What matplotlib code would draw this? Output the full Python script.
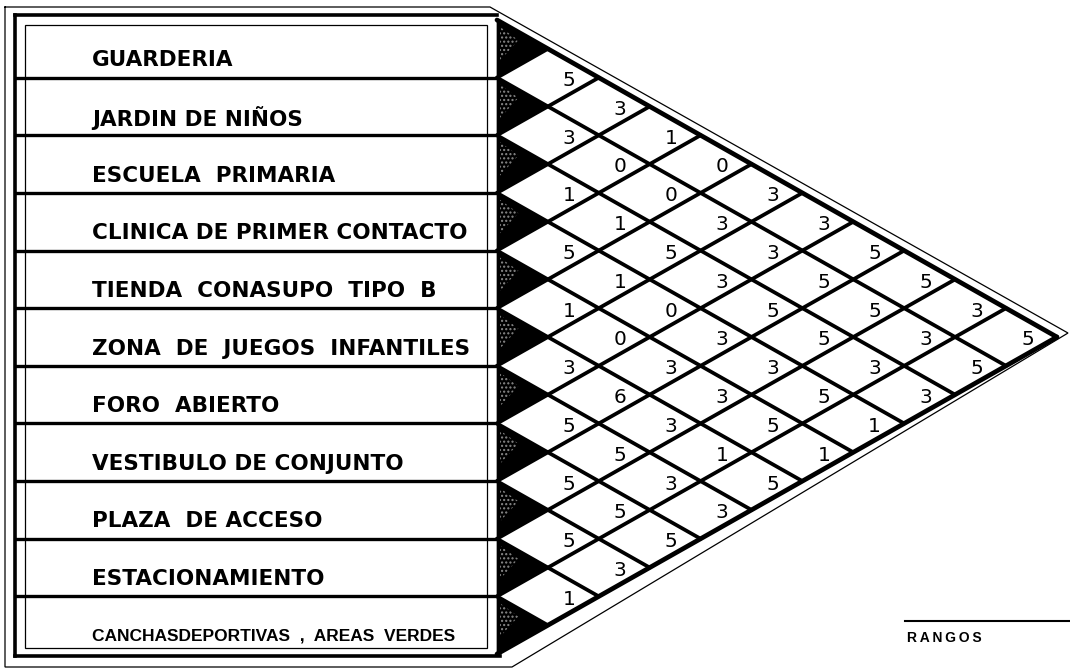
import matplotlib
matplotlib.use("Agg")
import matplotlib.pyplot as plt
from matplotlib.patches import Polygon, Rectangle

# activities listed down the left side
labels = [
    "GUARDERIA",
    "JARDIN DE NIÑOS",
    "ESCUELA  PRIMARIA",
    "CLINICA DE PRIMER CONTACTO",
    "TIENDA  CONASUPO  TIPO  B",
    "ZONA  DE  JUEGOS  INFANTILES",
    "FORO  ABIERTO",
    "VESTIBULO DE CONJUNTO",
    "PLAZA  DE ACCESO",
    "ESTACIONAMIENTO",
    "CANCHASDEPORTIVAS  ,  AREAS  VERDES",
]

# relation values, row i holds pairs (i, i+1), (i, i+2), ...
rel_0 = [5, 3, 1, 0, 3, 3, 5, 5, 3, 5]
rel_1 = [3, 0, 0, 3, 3, 5, 5, 3, 5]
rel_2 = [1, 1, 5, 3, 5, 5, 3, 3]
rel_3 = [5, 1, 0, 3, 3, 5, 1]
rel_4 = [1, 0, 3, 3, 5, 1]
rel_5 = [3, 6, 3, 1, 5]
rel_6 = [5, 5, 3, 3]
rel_7 = [5, 5, 5]
rel_8 = [5, 3]
rel_9 = [1]
relations = [rel_0, rel_1, rel_2, rel_3, rel_4, rel_5, rel_6, rel_7, rel_8, rel_9]

legend_title = "RANGOS"

W, H = 1070, 669
n = len(labels)
left = 497          # matrix left edge, px
top = 20            # matrix top, px
row_h = 57.64       # px per row
half_w = 50.9       # px per step to the right

fig = plt.figure(figsize=(W / 100, H / 100), dpi=100)
fig.patch.set_facecolor("white")

# background axes in pixel units for the frame
bg = fig.add_axes([0, 0, 1, 1])
bg.set_xlim(0, W)
bg.set_ylim(H, 0)
bg.axis("off")

apex_y = top + row_h * n / 2
bg.plot([5, 490, 1068, 512, 5, 5], [7, 7, apex_y - 4, 667, 667, 7],
        color="black", lw=0.9, solid_joinstyle="miter")
bg.plot([15, 497], [15, 15], color="black", lw=2.6)
bg.plot([15, 500], [656, 656], color="black", lw=2.6)
bg.plot([15, 15], [15, 656], color="black", lw=2.6)
bg.add_patch(Rectangle((25, 25), 462, 623, fill=False, ec="black", lw=0.9))

# table of labels
tb = fig.add_axes([15 / W, 1 - (top + n * row_h) / H, (left - 15) / W, n * row_h / H])
tb.set_xlim(15, left)
tb.set_ylim(n, 0)
tb.axis("off")
for k in range(1, n):
    tb.plot([15, left], [k, k], color="black", lw=2.4, solid_capstyle="butt")
for i, name in enumerate(labels):
    if i == n - 1:
        tb.text(92, i + 0.68, name, fontsize=12.5, fontweight="bold",
                family=["Liberation Sans", "DejaVu Sans"], va="center", ha="left")
    else:
        tb.text(92, i + 0.7, name, fontsize=15.5, fontweight="bold",
                family=["DejaVu Sans"], va="center", ha="left")

# triangular relation matrix
mx = fig.add_axes([left / W, 1 - (top + n * row_h) / H, n * half_w / W, n * row_h / H])
mx.set_xlim(0, n)
mx.set_ylim(n, 0)
mx.axis("off")

for i in range(n):
    mx.add_patch(Polygon([(0, i), (1, i + 0.5), (0, i + 1)], closed=True,
                         fc="black", ec="black", lw=0.5, clip_on=False))
    # speckled grey patch as in the scanned original
    mx.add_patch(Polygon([(0.06, i + 0.12), (0.42, i + 0.35), (0.06, i + 0.7)],
                         closed=True, fc="none", ec="#8a8a8a", lw=0,
                         hatch="....", clip_on=False))

for k in range(n + 1):
    lw = 3.4 if k in (0, n) else 2.7
    if k < n:
        mx.plot([0, n - k], [k, (n + k) / 2], color="black", lw=lw,
                solid_capstyle="round", clip_on=False)
    if k > 0:
        mx.plot([0, k], [k, k / 2], color="black", lw=lw,
                solid_capstyle="round", clip_on=False)

for i, row in enumerate(relations):
    for d, val in enumerate(row, start=1):
        j = i + d
        mx.text(d + 0.42, (i + j + 1) / 2 + 0.05, str(val), fontsize=14.5,
                ha="center", va="center", color="black",
                family=["DejaVu Sans"])

# legend caption
bg.plot([905, 1070], [621, 621], color="black", lw=1.5)
bg.text(907, 638, "\u2009".join(legend_title), fontsize=10, fontweight="bold",
        family=["Liberation Sans", "DejaVu Sans"], va="center", ha="left")

fig.savefig("out.png", dpi=100, facecolor="white")
